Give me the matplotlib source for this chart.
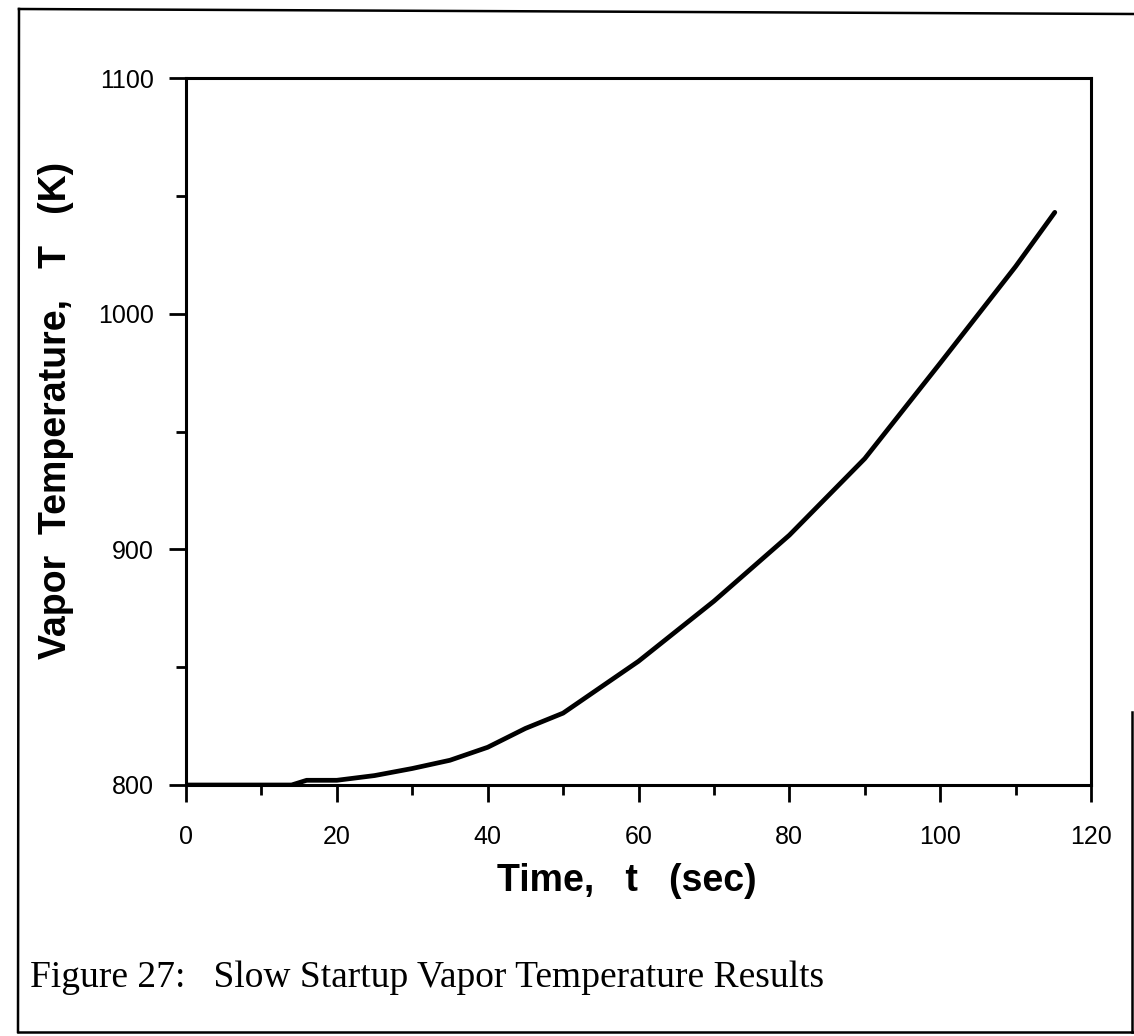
import matplotlib as mpl
mpl.use('Agg')
import matplotlib.pyplot as plt
from matplotlib.lines import Line2D
from matplotlib.ticker import MultipleLocator

# 数据
time_s = [0, 14, 16, 20, 25, 30, 35, 40, 45, 50, 60, 70, 80, 90, 100, 110, 115.2]
vapor_T = [800, 800, 802, 802, 804, 807, 810.5, 816, 824, 830.5, 852.5, 878, 906, 938.5, 979, 1020, 1043]

x_ticks = [0, 20, 40, 60, 80, 100, 120]
y_ticks = [800, 900, 1000, 1100]

sans = ['Liberation Sans', 'DejaVu Sans']
serif = ['Liberation Serif', 'DejaVu Serif']

fig = plt.figure(figsize=(11.34, 10.36), dpi=100)
ax = fig.add_axes([186 / 1134, 1 - 785 / 1036, (1091 - 186) / 1134, (785 - 78) / 1036])

ax.plot(time_s, vapor_T, color='black', linewidth=3.4, solid_capstyle='round')

ax.set_xlim(0, 120)
ax.set_ylim(800, 1100)
ax.set_xticks(x_ticks)
ax.set_yticks(y_ticks)
ax.xaxis.set_minor_locator(MultipleLocator(10))
ax.yaxis.set_minor_locator(MultipleLocator(50))
ax.tick_params(which='major', direction='out', length=12, width=2, color='black')
ax.tick_params(which='minor', direction='out', length=7, width=2, color='black')
ax.tick_params(axis='x', which='major', pad=17)
ax.tick_params(axis='y', which='major', pad=11)
ax.tick_params(top=False, right=False)
for lab in ax.get_xticklabels() + ax.get_yticklabels():
    lab.set_family(sans)
    lab.set_fontsize(18)
for s in ax.spines.values():
    s.set_linewidth(2.2)

ax.set_xlabel('Time,   t   (sec)', family=sans, fontsize=27, fontweight='bold')
ax.xaxis.set_label_coords(0.487, -0.11)
ax.set_ylabel('Vapor  Temperature,   T   (K)', family=sans, fontsize=27, fontweight='bold')
ax.yaxis.set_label_coords(-0.124, 0.53)

# 图注
fig.text(30 / 1134, 1 - 978 / 1036, 'Figure 27:   Slow Startup Vapor Temperature Results',
         family=serif, fontsize=27, ha='left', va='center')

# 外框
frame = [([19, 18], [9, 1032]), ([19, 1134], [9, 14]), ([18, 1134], [1032, 1032]), ([1132, 1132], [712, 1032])]
for xs, ys in frame:
    fig.add_artist(Line2D([x / 1134 for x in xs], [1 - y / 1036 for y in ys],
                          transform=fig.transFigure, color='black', linewidth=1.8))

plt.savefig('out.png', dpi=100)
